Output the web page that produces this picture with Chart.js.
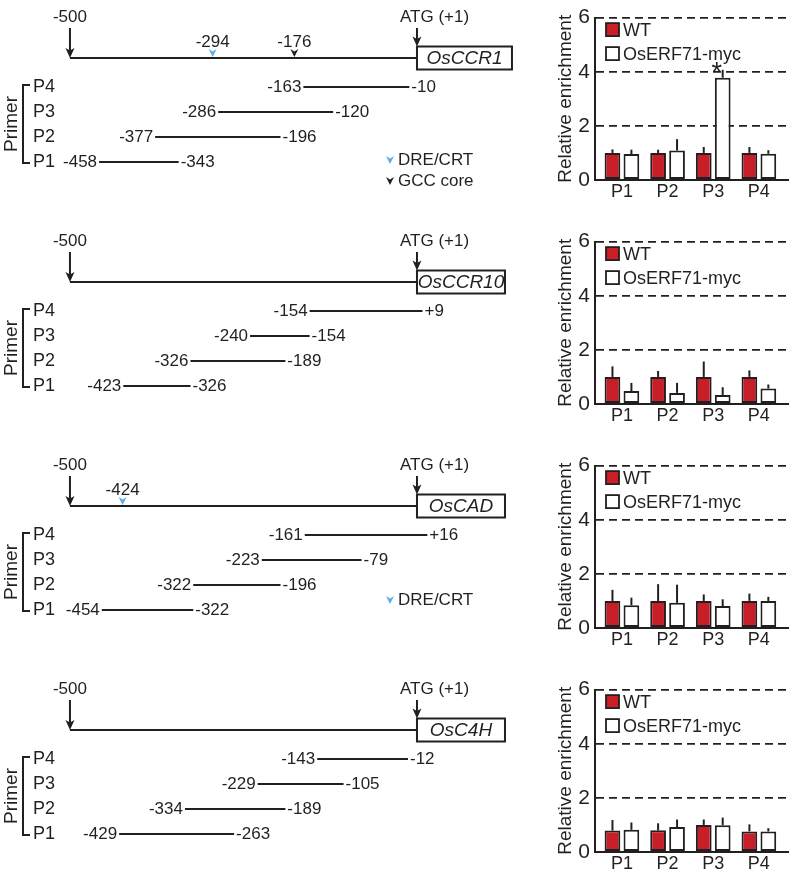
<!DOCTYPE html>
<html>
<head>
<meta charset="utf-8">
<script src="https://cdn.jsdelivr.net/npm/chart.js@4.4.1/dist/chart.umd.min.js"></script>
<style>
  body { margin: 0; background: #fff; width: 789px; height: 874px; position: relative; overflow: hidden; }
  .panel { position: absolute; left: 0; width: 789px; height: 224px; }
  .map { position: absolute; left: 0; top: 0; }
  .bars { position: absolute; left: 540px; top: 0; }
</style>
</head>
<body>
<script>
// ---- data ----
const genes = ['OsCCR1', 'OsCCR10', 'OsCAD', 'OsC4H'];
const primers = ['P1', 'P2', 'P3', 'P4'];
const seriesNames = ['WT', 'OsERF71-myc'];

// primer amplicons (bp relative to ATG), order P1..P4
const primerStart = [
  [-458, -377, -286, -163],
  [-423, -326, -240, -154],
  [-454, -322, -223, -161],
  [-429, -334, -229, -143]
];
const primerEnd = [
  [-343, -196, -120, -10],
  [-326, -189, -154, 9],
  [-322, -196, -79, 16],
  [-263, -189, -105, -12]
];

// cis elements in each promoter
const motifPos = [[-294, -176], [], [-424], []];
const motifType = [['DRE/CRT', 'GCC core'], [], ['DRE/CRT'], []];

// relative enrichment, order P1..P4
const wtMean = [
  [1.0, 1.0, 1.0, 1.0],
  [1.0, 1.0, 1.0, 1.0],
  [1.0, 1.0, 1.0, 1.0],
  [0.79, 0.8, 1.0, 0.76]
];
const wtErr = [
  [0.13, 0.12, 0.22, 0.22],
  [0.39, 0.22, 0.57, 0.24],
  [0.41, 0.62, 0.24, 0.27],
  [0.39, 0.26, 0.2, 0.26]
];
const mycMean = [
  [0.96, 1.09, 3.78, 0.97],
  [0.48, 0.41, 0.33, 0.57],
  [0.84, 0.93, 0.81, 1.0],
  [0.82, 0.92, 0.99, 0.76]
];
const mycErr = [
  [0.16, 0.42, 0.29, 0.13],
  [0.3, 0.37, 0.29, 0.15],
  [0.28, 0.67, 0.25, 0.15],
  [0.27, 0.28, 0.28, 0.12]
];
const mycSig = [
  ['', '', '*', ''],
  ['', '', '', ''],
  ['', '', '', ''],
  ['', '', '', '']
];
const yTicks = [0, 2, 4, 6];

// ---- style ----
const INK = '#231f20';
const RED = '#c81e28';
const BLUE = '#5aaee3';
const FAMILY = "'Liberation Sans', Arial, Helvetica, sans-serif";
const motifColor = {'DRE/CRT': BLUE, 'GCC core': INK};
const panelTop = [0, 224, 448, 672];
const boxWidth = [95, 88, 88, 88];
const LINE_Y = 5.16;

Chart.defaults.font.family = FAMILY;
Chart.defaults.color = INK;

function fmt(v) {
  return v > 0 ? '+' + v : String(v);
}

function arrow(ctx, x, y0, y1) {
  ctx.beginPath();
  ctx.moveTo(x, y0);
  ctx.lineTo(x, y1 - 6);
  ctx.stroke();
  ctx.beginPath();
  ctx.moveTo(x, y1);
  ctx.lineTo(x - 4.5, y1 - 10);
  ctx.lineTo(x, y1 - 7.5);
  ctx.lineTo(x + 4.5, y1 - 10);
  ctx.closePath();
  ctx.fill();
}

function marker(ctx, x, tip, color) {
  ctx.fillStyle = color;
  ctx.beginPath();
  ctx.moveTo(x, tip);
  ctx.lineTo(x - 4, tip - 8);
  ctx.lineTo(x, tip - 5.5);
  ctx.lineTo(x + 4, tip - 8);
  ctx.closePath();
  ctx.fill();
}

function mapDecor(g) {
  return {
    id: 'mapDecor',
    afterDatasetsDraw(chart) {
      const ctx = chart.ctx;
      const X = v => chart.scales.x.getPixelForValue(v);
      const Y = v => chart.scales.y.getPixelForValue(v);
      const ly = Y(LINE_Y);
      ctx.save();
      ctx.fillStyle = INK;
      ctx.strokeStyle = INK;
      ctx.lineWidth = 2;
      ctx.textBaseline = 'middle';

      // -500 arrow
      ctx.font = '17px ' + FAMILY;
      ctx.textAlign = 'center';
      ctx.fillText('-500', X(-500), ly - 41);
      arrow(ctx, X(-500), ly - 30, ly);

      // ATG arrow and gene box
      const bx = X(1), bw = boxWidth[g];
      ctx.textAlign = 'left';
      ctx.fillText('ATG (+1)', bx - 17, ly - 41);
      arrow(ctx, bx, ly - 30, ly - 11.5);
      ctx.fillStyle = '#fff';
      ctx.fillRect(bx, ly - 11.5, bw, 23);
      ctx.strokeRect(bx, ly - 11.5, bw, 23);
      ctx.fillStyle = INK;
      ctx.font = 'italic 19px ' + FAMILY;
      ctx.textAlign = 'center';
      ctx.fillText(genes[g], bx + bw / 2, ly + 1);

      // motifs on promoter
      motifPos[g].forEach((p, k) => {
        marker(ctx, X(p), ly - 1, motifColor[motifType[g][k]]);
        ctx.fillStyle = INK;
        ctx.font = '17px ' + FAMILY;
        ctx.textAlign = 'center';
        ctx.fillText(String(p), X(p), ly - 16);
      });

      // primer rows
      primers.forEach((p, i) => {
        const py = Y(i + 1);
        ctx.fillStyle = INK;
        ctx.font = '18px ' + FAMILY;
        ctx.textAlign = 'left';
        ctx.fillText(p, 33, py);
        ctx.font = '17px ' + FAMILY;
        ctx.textAlign = 'right';
        ctx.fillText(fmt(primerStart[g][i]), X(primerStart[g][i]) - 2, py);
        ctx.textAlign = 'left';
        ctx.fillText(fmt(primerEnd[g][i]), X(primerEnd[g][i]) + 2, py);
      });

      // bracket + "Primer"
      const t = Y(primers.length) - 2, b = Y(1) + 1;
      ctx.beginPath();
      ctx.moveTo(30, t);
      ctx.lineTo(23, t);
      ctx.lineTo(23, b);
      ctx.lineTo(30, b);
      ctx.stroke();
      ctx.save();
      ctx.translate(12, (t + b) / 2);
      ctx.rotate(-Math.PI / 2);
      ctx.textAlign = 'center';
      ctx.font = '19px ' + FAMILY;
      ctx.fillText('Primer', 0, 0);
      ctx.restore();

      // motif legend
      const kinds = [...new Set(motifType[g])];
      let ry = Y(1) - (kinds.length > 1 ? 2 : 10);
      kinds.forEach(kind => {
        marker(ctx, 390, ry + 4, motifColor[kind]);
        ctx.fillStyle = INK;
        ctx.font = '17px ' + FAMILY;
        ctx.textAlign = 'left';
        ctx.fillText(kind, 398, ry);
        ry += 21;
      });
      ctx.restore();
    }
  };
}

const errorBars = {
  id: 'errorBars',
  afterDatasetsDraw(chart) {
    const ctx = chart.ctx, y = chart.scales.y;
    chart.data.datasets.forEach((ds, d) => {
      chart.getDatasetMeta(d).data.forEach((bar, i) => {
        const top = y.getPixelForValue(ds.data[i].y + ds.err[i]);
        ctx.save();
        ctx.strokeStyle = INK;
        ctx.lineWidth = 2;
        ctx.beginPath();
        ctx.moveTo(bar.x, bar.y);
        ctx.lineTo(bar.x, top);
        ctx.stroke();
        if (ds.sig && ds.sig[i]) {
          ctx.fillStyle = INK;
          ctx.font = '27px ' + FAMILY;
          ctx.textAlign = 'center';
          ctx.textBaseline = 'alphabetic';
          ctx.fillText(ds.sig[i], bar.x - 6, top + 11);
        }
        ctx.restore();
      });
    });
  }
};

const legendBox = {
  id: 'legendBox',
  afterDraw(chart) {
    const ctx = chart.ctx, a = chart.chartArea;
    chart.data.datasets.forEach((ds, d) => {
      const cy = a.top + 12 + d * 24;
      ctx.save();
      ctx.fillStyle = ds.backgroundColor;
      ctx.strokeStyle = INK;
      ctx.lineWidth = 1.8;
      ctx.fillRect(a.left + 11, cy - 6.5, 13, 13);
      ctx.strokeRect(a.left + 11, cy - 6.5, 13, 13);
      ctx.fillStyle = INK;
      ctx.font = '18px ' + FAMILY;
      ctx.textBaseline = 'middle';
      ctx.fillText(ds.label, a.left + 28, cy + 1);
      ctx.restore();
    });
  }
};

function makeCanvas(parent, cls, w, h) {
  const c = document.createElement('canvas');
  c.className = cls;
  c.width = w;
  c.height = h;
  c.style.width = w + 'px';
  c.style.height = h + 'px';
  parent.appendChild(c);
  return c;
}

function mapChart(canvas, g) {
  const datasets = [{
    data: [{x: -500, y: LINE_Y}, {x: 1, y: LINE_Y}],
    showLine: true, borderColor: INK, borderWidth: 2, pointRadius: 0
  }];
  primers.forEach((p, i) => {
    datasets.push({
      data: [{x: primerStart[g][i], y: i + 1}, {x: primerEnd[g][i], y: i + 1}],
      showLine: true, borderColor: INK, borderWidth: 2, pointRadius: 0
    });
  });
  new Chart(canvas, {
    type: 'scatter',
    data: {datasets},
    options: {
      responsive: false, animation: false, events: [],
      layout: {padding: 0},
      plugins: {legend: {display: false}, tooltip: {enabled: false}},
      scales: {
        x: {type: 'linear', display: false, min: -601, max: 207.5},
        y: {type: 'linear', display: false, min: -1.48, max: 7.48}
      }
    },
    plugins: [mapDecor(g)]
  });
}

function barChart(canvas, g) {
  const pos = primers.map((p, i) => i + 1);
  const common = {borderColor: INK, borderWidth: 2, borderSkipped: false, categoryPercentage: 0.83, barPercentage: 0.83};
  new Chart(canvas, {
    type: 'bar',
    data: {
      datasets: [
        Object.assign({label: seriesNames[0], data: pos.map((x, i) => ({x, y: wtMean[g][i]})), err: wtErr[g], backgroundColor: RED}, common),
        Object.assign({label: seriesNames[1], data: pos.map((x, i) => ({x, y: mycMean[g][i]})), err: mycErr[g], sig: mycSig[g], backgroundColor: '#ffffff'}, common)
      ]
    },
    options: {
      responsive: false, animation: false, events: [],
      layout: {padding: {top: 11, left: 0, right: 0, bottom: 0}},
      plugins: {legend: {display: false}, tooltip: {enabled: false}},
      scales: {
        x: {
          type: 'linear', min: 0.41, max: 4.66, offset: false,
          afterBuildTicks: s => { s.ticks = pos.map(v => ({value: v})); },
          afterFit: s => { s.height = 44; },
          ticks: {callback: v => primers[v - 1], font: {size: 18}, color: INK, padding: 1, maxRotation: 0},
          grid: {display: false, drawTicks: false, tickLength: 0},
          border: {color: INK, width: 2}
        },
        y: {
          min: 0, max: 6,
          afterBuildTicks: s => { s.ticks = yTicks.map(v => ({value: v})); },
          afterFit: s => { s.width = 55; },
          ticks: {font: {size: 21}, color: INK, padding: 5},
          grid: {color: c => c.tick && c.tick.value === 0 ? 'rgba(0,0,0,0)' : INK, lineWidth: 1.8, drawTicks: false},
          border: {color: INK, width: 2, dash: [8, 5]},
          title: {display: true, text: 'Relative enrichment', font: {size: 19}, color: INK, padding: {top: 14, bottom: 0}}
        }
      }
    },
    plugins: [errorBars, legendBox]
  });
}

genes.forEach((gene, g) => {
  const panel = document.createElement('DIV');
  panel.className = 'panel';
  panel.style.top = panelTop[g] + 'px';
  document.body.appendChild(panel);
  mapChart(makeCanvas(panel, 'map', 560, 224), g);
  barChart(makeCanvas(panel, 'bars', 249, 224), g);
});
</script>
</body>
</html>
